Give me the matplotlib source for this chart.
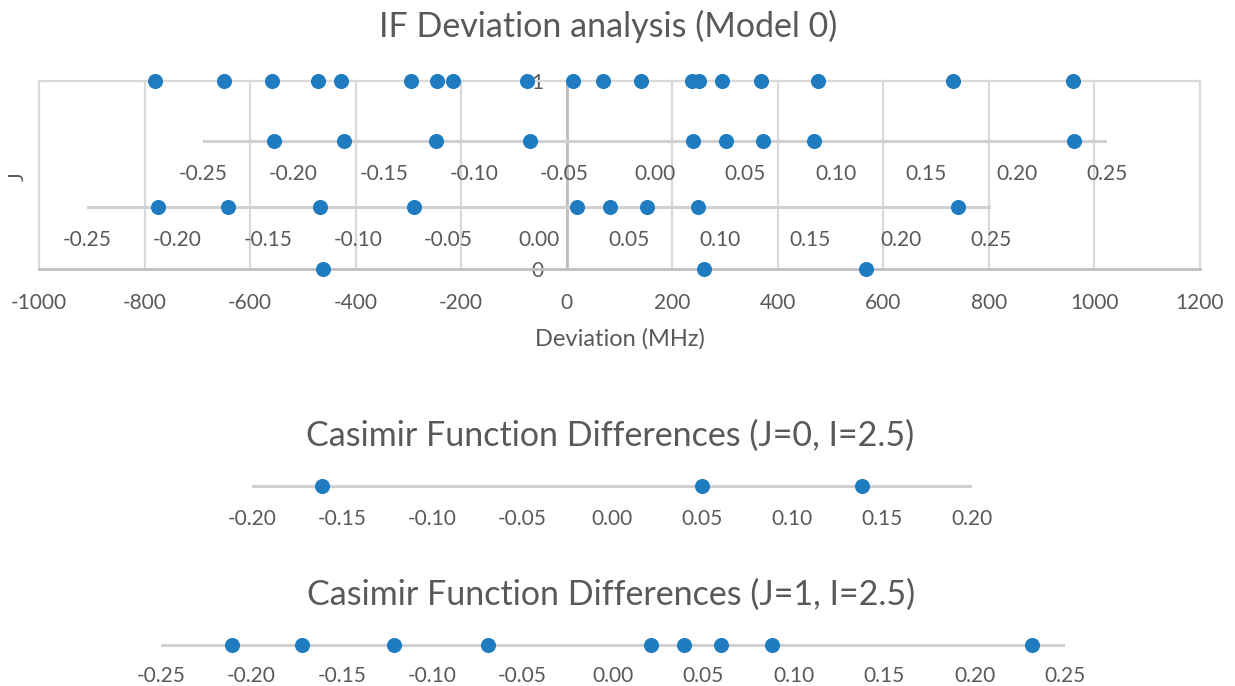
import matplotlib
matplotlib.use("Agg")
import matplotlib.pyplot as plt
import numpy as np

plt.rcParams['font.family'] = ['Lato', 'DejaVu Sans']
plt.rcParams['axes.unicode_minus'] = False

# IF deviation (MHz) per J
dev_j1 = [-781, -650, -559, -472, -427, -296, -245, -215, -76, 11, 69, 140,
          237, 251, 294, 369, 477, 732, 960]
dev_j0 = [-462, 261, 567]

# Casimir function differences, I=2.5
cas_j1 = [-0.211, -0.172, -0.121, -0.069, 0.021, 0.039, 0.060, 0.088, 0.232]
cas_j0 = [-0.161, 0.050, 0.139]

dev_ticks = list(range(-1000, 1201, 200))
ticks_j1 = [-0.25, -0.20, -0.15, -0.10, -0.05, 0.00, 0.05, 0.10, 0.15, 0.20, 0.25]
ticks_j0 = [-0.20, -0.15, -0.10, -0.05, 0.00, 0.05, 0.10, 0.15, 0.20]

BLUE = '#1f7cc1'
TXT = '#595959'
GRID = '#d9d9d9'
AXL = '#bfbfbf'
DOT = 118

W, H = 1235, 686
fig = plt.figure(figsize=(W / 100, H / 100), dpi=100)


def rect(x0, y0, x1, y1):
    return [x0 / W, 1 - y1 / H, (x1 - x0) / W, (y1 - y0) / H]


# main chart
ax = fig.add_axes(rect(39, 81, 1200, 269))
ax.scatter(dev_j1, np.ones(len(dev_j1)), s=DOT, color=BLUE, zorder=5, clip_on=False, linewidths=0)
ax.scatter(dev_j0, np.zeros(len(dev_j0)), s=DOT, color=BLUE, zorder=5, clip_on=False, linewidths=0)
ax.set_xlim(-1000, 1200)
ax.set_ylim(0, 1)
ax.set_xticks(dev_ticks)
ax.set_yticks([0, 1])
ax.grid(axis='x', color=GRID, lw=1.6)
for gl in ax.get_xgridlines():
    gl.set_clip_on(False)
ax.spines['left'].set_position(('data', 0))
ax.spines['left'].set_color(AXL)
ax.spines['left'].set_linewidth(2)
ax.spines['bottom'].set_color(AXL)
ax.spines['bottom'].set_linewidth(2)
ax.spines['top'].set_color(GRID)
ax.spines['top'].set_linewidth(1.6)
ax.spines['right'].set_visible(False)
ax.tick_params(axis='x', length=0, labelsize=15, labelcolor=TXT, pad=17)
ax.tick_params(axis='y', length=0, labelsize=15, labelcolor=TXT, pad=17)
ax.set_xlabel('Deviation (MHz)', fontsize=17, color=TXT, labelpad=11)
ax.set_axisbelow(True)

fig.text(608 / W, 1 - 26 / H, 'IF Deviation analysis (Model 0)', fontsize=24.5,
         color=TXT, ha='center', va='center')
fig.text(18 / W, 1 - 177 / H, 'J', fontsize=15, color=TXT, rotation=90,
         ha='center', va='center')


def number_line(x0, x1, y, ticks, vals, pad=9.7):
    a = fig.add_axes(rect(x0, y - 10, x1, y + 10))
    a.patch.set_alpha(0)
    a.set_xlim(ticks[0], ticks[-1])
    a.set_ylim(-1, 1)
    a.axhline(0, color='#d0d0d0', lw=2.2, zorder=1)
    a.scatter(vals, np.zeros(len(vals)), s=DOT, color=BLUE, zorder=5,
              clip_on=False, linewidths=0)
    a.set_xticks(ticks)
    a.set_xticklabels([f"{t:.2f}" for t in ticks])
    a.set_yticks([])
    for s in a.spines.values():
        s.set_visible(False)
    a.tick_params(axis='x', length=0, labelsize=15, labelcolor=TXT, pad=pad)
    return a


# the J=1 line pasted twice on top of the main chart
number_line(203, 1107, 141, ticks_j1, cas_j1)
number_line(87, 991, 207, ticks_j1, cas_j1)

# J=0 chart
number_line(252, 972, 486, ticks_j0, cas_j0)
fig.text(610 / W, 1 - 436 / H, 'Casimir Function Differences (J=0, I=2.5)',
         fontsize=24.5, color=TXT, ha='center', va='center')

# J=1 chart
number_line(161, 1065, 645, ticks_j1, cas_j1, pad=7.8)
fig.text(611 / W, 1 - 595 / H, 'Casimir Function Differences (J=1, I=2.5)',
         fontsize=24.5, color=TXT, ha='center', va='center')

fig.savefig('out.png', dpi=100)
